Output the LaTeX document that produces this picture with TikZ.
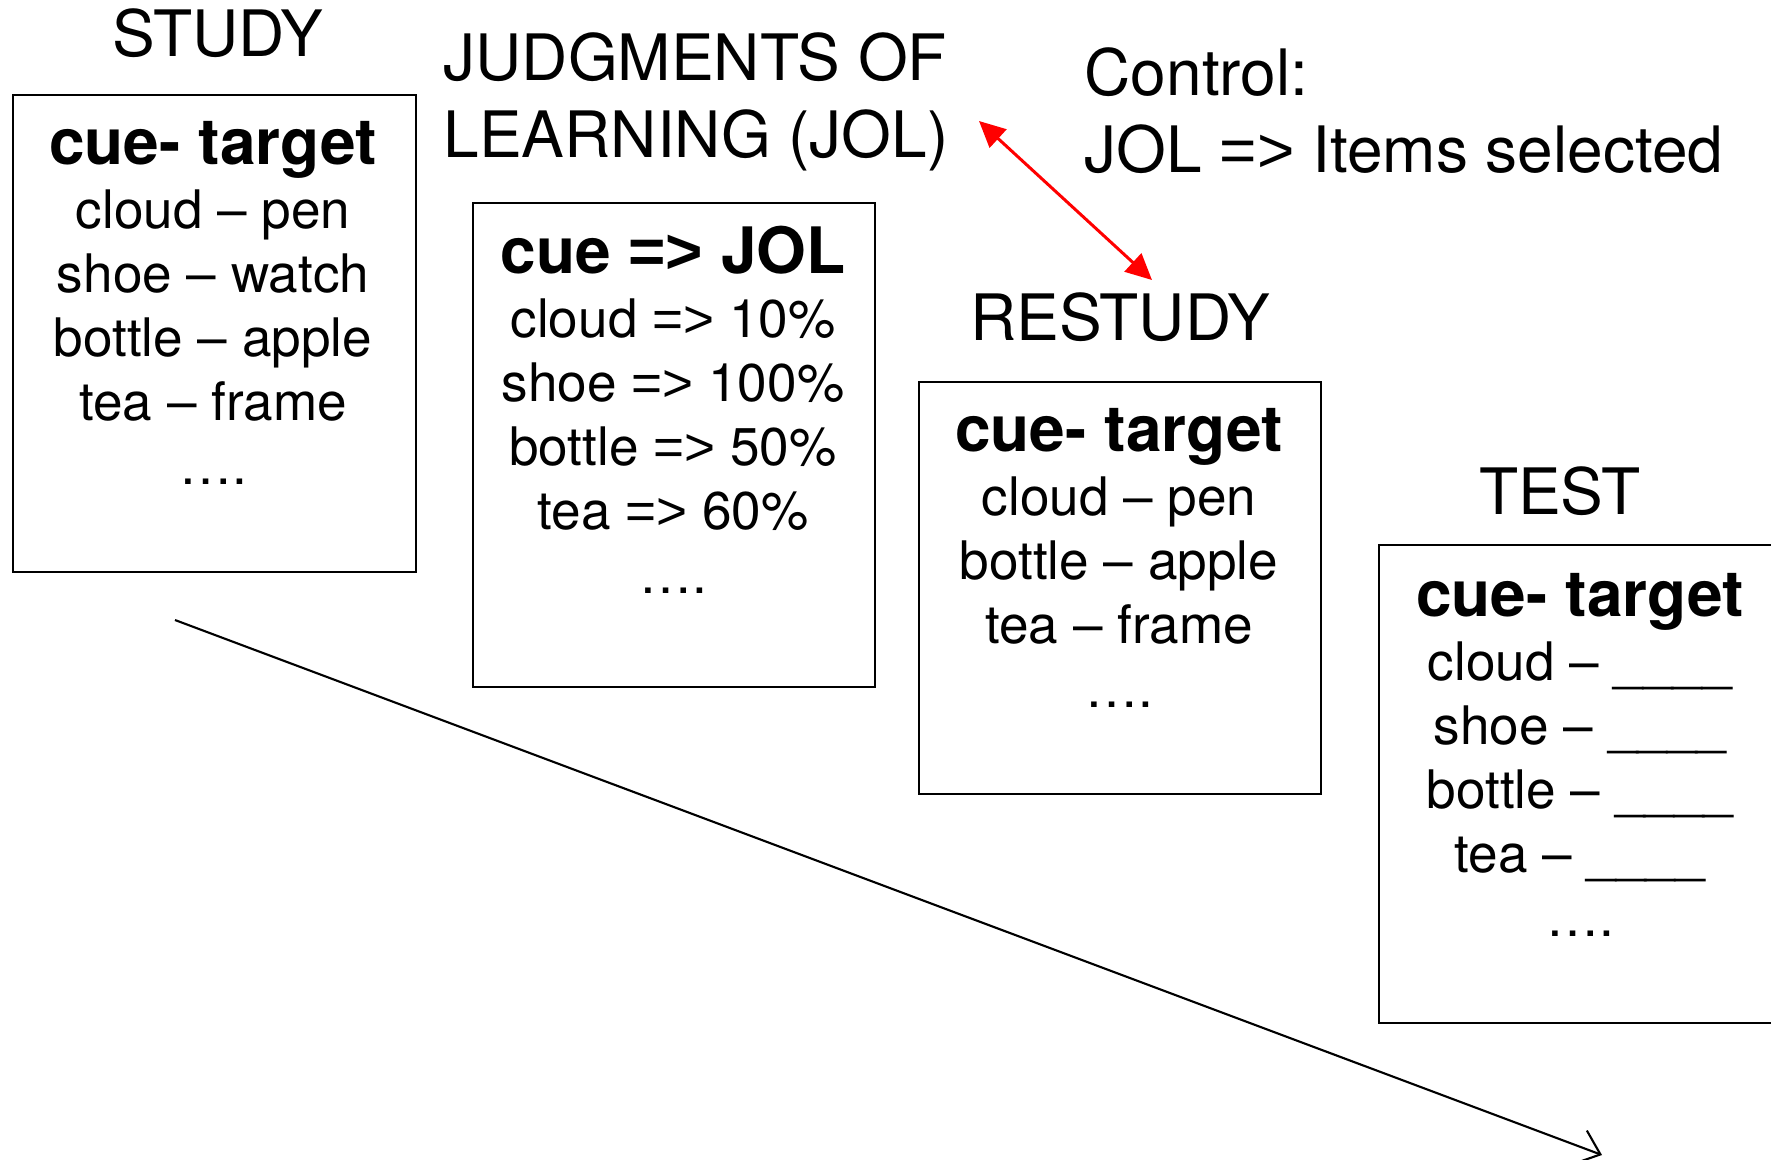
\documentclass[tikz,border=0pt]{standalone}
\usepackage{fontspec}
\setmainfont{TeX Gyre Heros}
\newfontfamily\arrowfont{Liberation Sans}
\usetikzlibrary{positioning,arrows.meta}

\newcommand{\cuehead}[1]{{\fontsize{18.2}{18.2}\selectfont\bfseries #1}}
\newcommand{\imp}{{\arrowfont =>}}

\begin{document}
\begin{tikzpicture}[x=0.01cm,y=-0.01cm,
		title/.style={font=\fontsize{18.2}{21.9}\selectfont, inner sep=0pt},
		frame/.style={draw, line width=0.6pt, inner sep=0pt, anchor=north west},
		list/.style={font=\fontsize{15.1}{18.2}\selectfont, align=center, inner sep=0pt, anchor=north}]
		\useasboundingbox (0,0) rectangle (1771,1160);
		\clip (0,0) rectangle (1771,1160);
		% study
		\node[title, anchor=base] (study) at (218,56) {STUDY};
		\node[frame, minimum width=4.03cm, minimum height=4.77cm] (studybox) at (12,94) {};
		\node[list] (studylist) at (213,121) {\cuehead{cue- target}\\ cloud -- pen\\ shoe -- watch\\ bottle -- apple\\ tea -- frame\\ ….};
		% judgments of learning
		\node[title, align=left, anchor=north west] (jol) at (443,32) {JUDGMENTS OF\\ LEARNING (JOL)};
		\node[frame, minimum width=4.02cm, minimum height=4.84cm] (jolbox) at (472,202) {};
		\node[list] (jollist) at (673,225) {\cuehead{cue \imp{} JOL}\\ cloud \imp{} 10\%\\ shoe \imp{} 100\%\\ bottle \imp{} 50\%\\ tea \imp{} 60\%\\ ….};
		% control
		\node[title, align=left, anchor=north west] (control) at (1084,47) {Control:\\ JOL \imp{} Items selected};
		% restudy
		\node[title, anchor=base] (restudy) at (1120,340) {RESTUDY};
		\node[frame, minimum width=4.02cm, minimum height=4.12cm] (restudybox) at (918,381) {};
		\node[list] (restudylist) at (1119,408) {\cuehead{cue- target}\\ cloud -- pen\\ bottle -- apple\\ tea -- frame\\ ….};
		% test
		\node[title, anchor=base] (test) at (1560,514) {TEST};
		\node[frame, minimum width=4.02cm, minimum height=4.78cm] (testbox) at (1378,544) {};
		\node[list] (testlist) at (1580,573) {\cuehead{cue- target}\\ cloud -- \_\_\_\_\\ shoe -- \_\_\_\_\\ bottle -- \_\_\_\_\\ tea -- \_\_\_\_\\ ….};
		% arrows
		\coordinate (jolend) at (979,121);
		\coordinate (restudytop) at (1152,280);
		\draw[red, line width=0.85pt, {Triangle[length=7.4pt,width=7pt]}-{Triangle[length=7.4pt,width=7pt]}] (jolend) -- (restudytop);
		\coordinate (timestart) at (175,620);
		\coordinate (timeend) at (1602,1155);
		\draw[line width=0.6pt, -{Straight Barb[length=6pt,width=10pt]}] (timestart) -- (timeend);
	\end{tikzpicture}
\end{document}
